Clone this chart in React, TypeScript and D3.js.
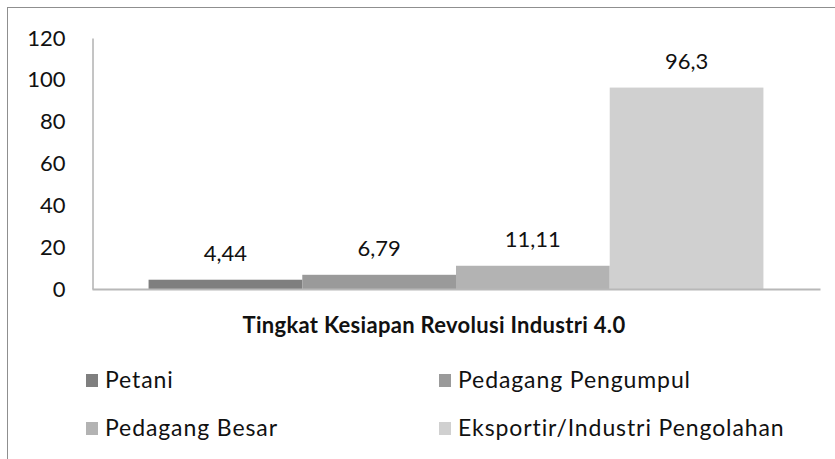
import { useEffect, useRef } from "react";
import * as d3 from "d3";

const categories = ["Tingkat Kesiapan Revolusi Industri 4.0"];
const seriesNames = ["Petani", "Pedagang Pengumpul", "Pedagang Besar", "Eksportir/Industri Pengolahan"];
const seriesValues = [4.44, 6.79, 11.11, 96.3];
const seriesLabels = ["4,44", "6,79", "11,11", "96,3"];
const seriesColors = ["#7f7f7f", "#9a9a9a", "#b3b3b3", "#d0d0d0"];
const yTicks = [0, 20, 40, 60, 80, 100, 120];

const W = 835;
const H = 459;
const FONT = "Lato, 'Open Sans', sans-serif";

export default function App() {
  const svgRef = useRef<SVGSVGElement | null>(null);

  useEffect(() => {
    if (!svgRef.current) return;
    const svg = d3.select(svgRef.current);
    svg.selectAll("*").remove();

    // outer chart frame (cropped on right and bottom)
    svg
      .append("rect")
      .attr("x", 7.5)
      .attr("y", 7.5)
      .attr("width", W + 20)
      .attr("height", H + 20)
      .attr("fill", "white")
      .attr("stroke", "#8f8f8f")
      .attr("stroke-width", 1);

    const plot = { left: 92, right: 820, top: 38, bottom: 289 };

    const y = d3.scaleLinear().domain([0, 120]).range([plot.bottom, plot.top]);
    const x0 = d3
      .scaleBand<string>()
      .domain(categories)
      .range([plot.left, plot.right])
      .paddingInner(0)
      .paddingOuter(0.092);
    const x1 = d3.scaleBand<string>().domain(seriesNames).range([0, x0.bandwidth()]).padding(0);

    const g = svg.append("g");
    const cat = categories[0];

    // bars
    g.selectAll("rect.bar")
      .data(seriesNames)
      .join("rect")
      .attr("class", "bar")
      .attr("x", (d) => (x0(cat) ?? 0) + (x1(d) ?? 0))
      .attr("width", x1.bandwidth())
      .attr("y", (_, i) => y(seriesValues[i]))
      .attr("height", (_, i) => y(0) - y(seriesValues[i]))
      .attr("fill", (_, i) => seriesColors[i]);

    // value labels
    g.selectAll("text.val")
      .data(seriesNames)
      .join("text")
      .attr("class", "val")
      .attr("x", (d) => (x0(cat) ?? 0) + (x1(d) ?? 0) + x1.bandwidth() / 2)
      .attr("y", (_, i) => y(seriesValues[i]) - 19)
      .attr("text-anchor", "middle")
      .attr("font-family", FONT)
      .attr("font-size", 22)
      .attr("fill", "#111")
      .text((_, i) => seriesLabels[i]);

    // y axis
    const yAxis = d3.axisLeft(y).tickValues(yTicks).tickSize(0).tickPadding(27);
    const ya = g.append("g").attr("transform", `translate(${plot.left + 0.5},0)`).call(yAxis);
    ya.select(".domain").attr("stroke", "#8a8a8a").attr("stroke-width", 1);
    ya.selectAll("text")
      .attr("font-family", FONT)
      .attr("font-size", 22)
      .attr("fill", "#111")
      .attr("text-anchor", "end");

    // x axis
    const xAxis = d3.axisBottom(x0).tickSize(0).tickFormat(() => "");
    const xa = g.append("g").attr("transform", `translate(0,${plot.bottom})`).call(xAxis);
    xa.select(".domain").attr("stroke", "#b8b8b8").attr("stroke-width", 2);

    // category label
    g.append("text")
      .attr("x", (x0(cat) ?? 0) + x0.bandwidth() / 2 - 22)
      .attr("y", 333)
      .attr("text-anchor", "middle")
      .attr("font-family", FONT)
      .attr("font-weight", "bold")
      .attr("font-size", 22)
      .attr("letter-spacing", 0.3)
      .attr("fill", "#111")
      .text(cat);

    // legend
    const legendX = [86, 439];
    const legendY = [380, 428];
    const lg = svg.append("g");
    seriesNames.forEach((name, i) => {
      const lx = legendX[i % 2];
      const ly = legendY[Math.floor(i / 2)];
      lg.append("rect")
        .attr("x", lx)
        .attr("y", ly - 6)
        .attr("width", 12)
        .attr("height", 13)
        .attr("fill", seriesColors[i]);
      lg.append("text")
        .attr("x", lx + 19)
        .attr("y", ly + 8)
        .attr("font-family", FONT)
        .attr("font-size", 23)
        .attr("letter-spacing", 0.9)
        .attr("fill", "#111")
        .text(name);
    });
  }, []);

  return (
    <svg
      ref={svgRef}
      width={W}
      height={H}
      style={{ position: "absolute", left: 0, top: 0, background: "white" }}
    />
  );
}
